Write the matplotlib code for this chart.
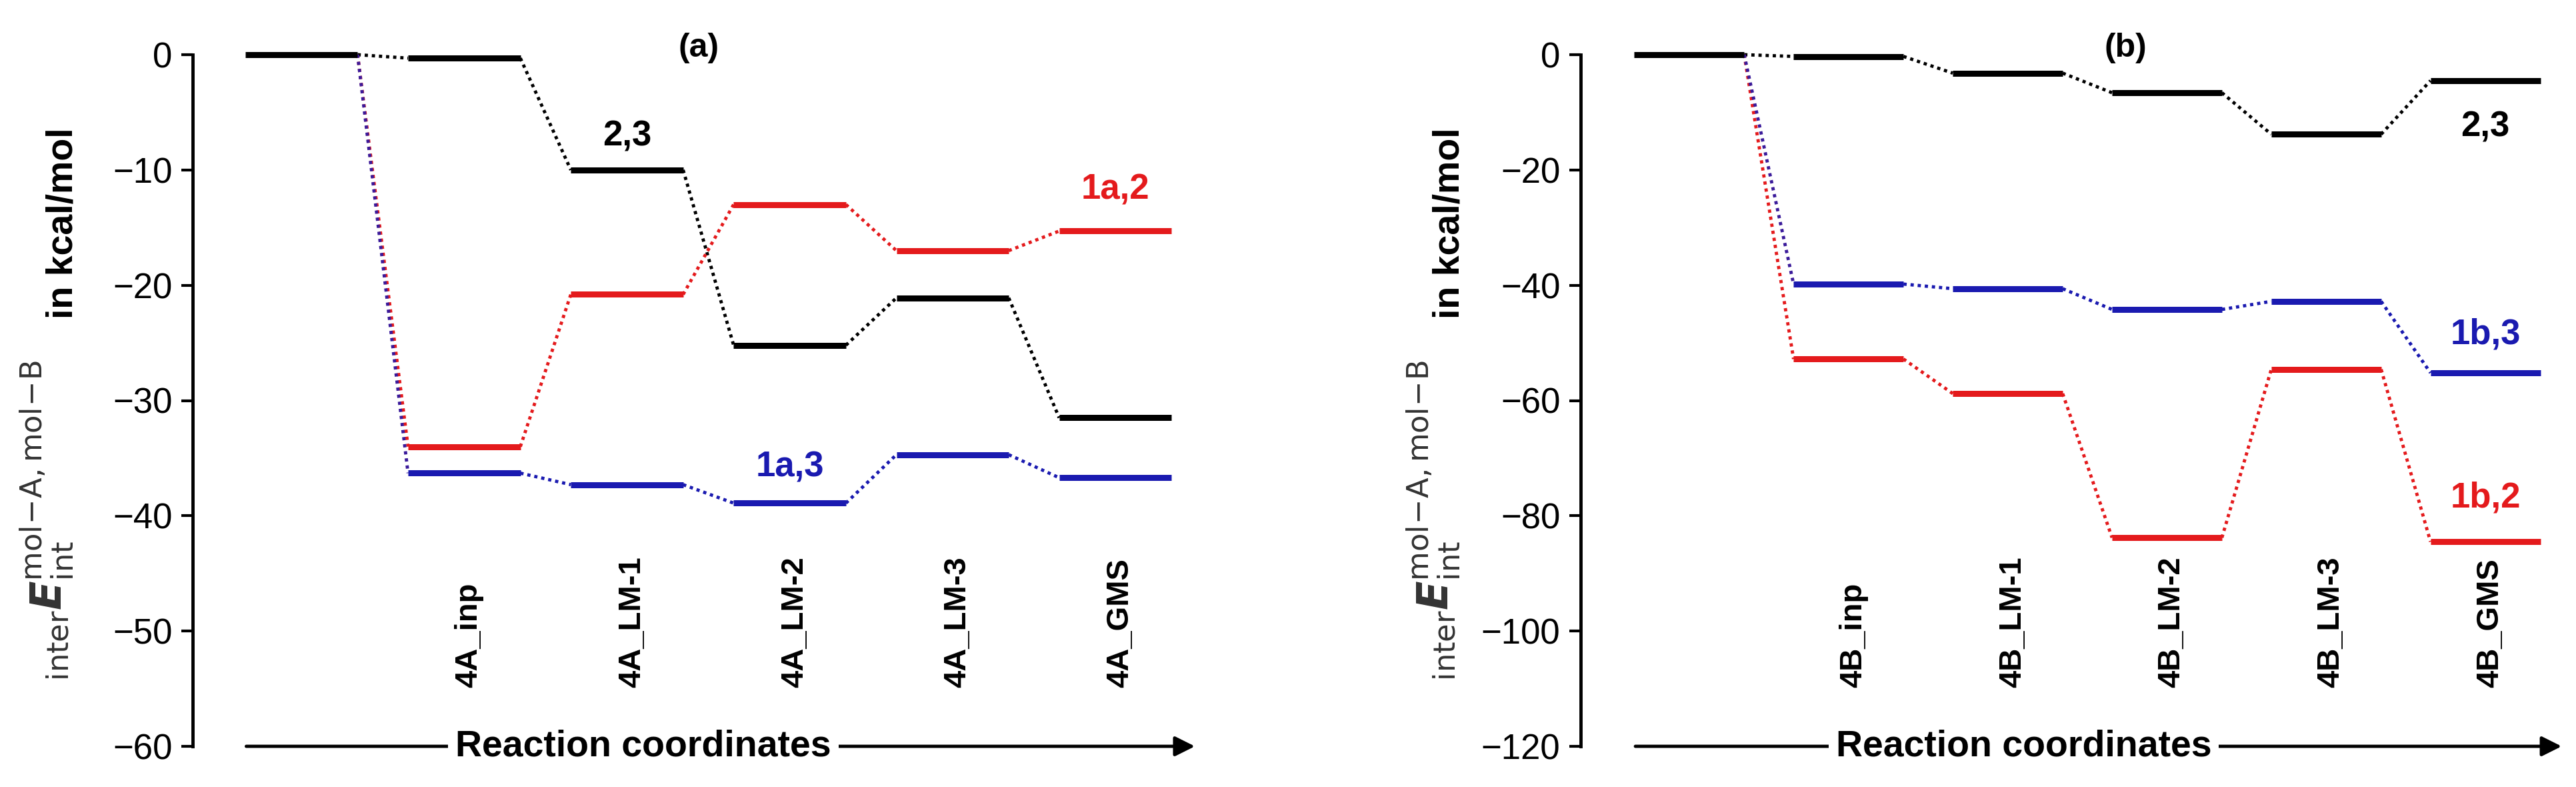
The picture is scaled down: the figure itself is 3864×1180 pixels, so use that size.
import matplotlib
matplotlib.use("Agg")
import matplotlib.pyplot as plt

plt.rcParams["font.family"] = ["Liberation Sans", "DejaVu Sans"]

# energies in kcal/mol, first point is the separated reference (0)
labels_a = ["4A_inp", "4A_LM-1", "4A_LM-2", "4A_LM-3", "4A_GMS"]
black_a = [0, -0.3, -10.0, -25.2, -21.1, -31.5]
red_a = [0, -34.0, -20.8, -13.0, -17.0, -15.3]
blue_a = [0, -36.3, -37.3, -38.9, -34.7, -36.7]

labels_b = ["4B_inp", "4B_LM-1", "4B_LM-2", "4B_LM-3", "4B_GMS"]
black_b = [0, -0.3, -3.2, -6.6, -13.8, -4.5]
blue_b = [0, -39.8, -40.6, -44.2, -42.8, -55.2]
red_b = [0, -52.8, -58.8, -83.8, -54.6, -84.5]

W, H = 3864, 1180
HALF = 0.345


def draw_series(ax, vals, color, first_color=None):
    for i, v in enumerate(vals):
        if i == 0 and color != "black":
            continue
        ax.plot([i - HALF, i + HALF], [v, v], color=color, lw=6.5,
                solid_capstyle="butt", clip_on=False, zorder=3)
    for i in range(len(vals) - 1):
        c = first_color if (i == 0 and first_color) else color
        ax.plot([i + HALF, i + 1 - HALF], [vals[i], vals[i + 1]], color=c,
                lw=3.5, ls=(0, (1, 1.2)), clip_on=False, zorder=2)


def setup(ax, labels, ymin, ystep, xmin, xmax, axtitle, notes):
    ax.set_xlim(xmin, xmax)
    ax.set_ylim(ymin, 0)
    ax.set_yticks(range(ymin, 1, ystep))
    ax.tick_params(axis="y", labelsize=38, width=3, length=12, pad=10)
    ax.set_xticks([])
    for s in ("top", "right", "bottom"):
        ax.spines[s].set_visible(False)
    ax.spines["left"].set_linewidth(3.5)
    ax.annotate("", xy=(xmax - 0.02, ymin), xytext=(-0.35, ymin),
                arrowprops=dict(arrowstyle="-|>", lw=3.5, color="black",
                                mutation_scale=45),
                annotation_clip=False)
    ax.text(2.1, ymin, "Reaction coordinates", fontsize=40, fontweight="bold",
            ha="center", va="center", clip_on=False,
            bbox=dict(facecolor="white", edgecolor="none", pad=8))
    for i, lab in enumerate(labels, start=1):
        ax.text(i + 0.03, ymin * 0.915, lab, rotation=90, fontsize=34,
                fontweight="bold", ha="center", va="bottom")
    ax.text(axtitle[0], axtitle[1], axtitle[2], fontsize=36, fontweight="bold",
            ha="center", va="center")
    for x, y, t, c in notes:
        ax.text(x, y, t, fontsize=38, fontweight="bold", color=c,
                ha="center", va="center")


fig = plt.figure(figsize=(W / 100, H / 100), dpi=100)
bottom = 1 - 1119 / H
height = (1119 - 82) / H

ax1 = fig.add_axes([289 / W, bottom, (1800 - 289) / W, height])
draw_series(ax1, black_a, "black")
draw_series(ax1, red_a, "#e41a1c")
draw_series(ax1, blue_a, "#1a1ab0", first_color="#3a1a9a")
setup(ax1, labels_a, -60, 10, -0.668, 5.52, (2.44, 0.6, "(a)"),
      [(2.0, -7.1, "2,3", "black"), (5.0, -11.7, "1a,2", "#e41a1c"),
       (3.0, -35.8, "1a,3", "#1a1ab0")])

ax2 = fig.add_axes([2371 / W, bottom, (3850 - 2371) / W, height])
draw_series(ax2, black_b, "black")
draw_series(ax2, red_b, "#e41a1c")
draw_series(ax2, blue_b, "#1a1ab0", first_color="#3a1a9a")
setup(ax2, labels_b, -120, 20, -0.682, 5.51, (2.74, 1.2, "(b)"),
      [(5.0, -12.5, "2,3", "black"), (5.0, -48.6, "1b,3", "#1a1ab0"),
       (5.0, -76.9, "1b,2", "#e41a1c")])

elabel = r"$_{\mathrm{inter}}\mathbfit{E}_{\mathrm{int}}^{\mathrm{mol\!-\!A,mol\!-\!B}}$"
for x0 in (95, 2175):
    fig.text(x0 / W, 1 - 335 / H, "in kcal/mol", rotation=90, fontsize=40,
             fontweight="bold", ha="center", va="center")
    fig.text((x0 - 25) / W, 1 - 780 / H, elabel, rotation=90, fontsize=46,
             color="#333333", ha="center", va="center")

fig.savefig("out.png", dpi=100)
